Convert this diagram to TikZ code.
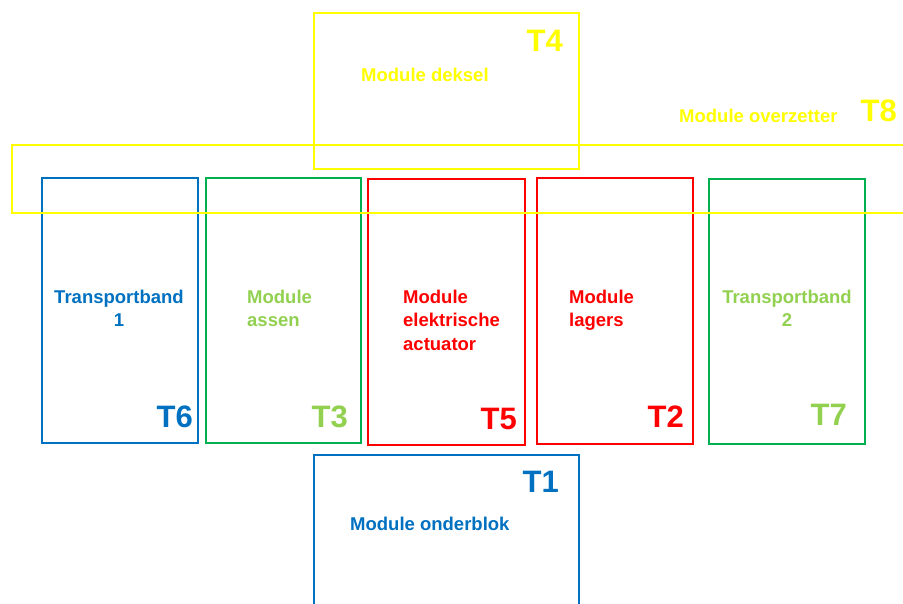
\documentclass[tikz,border=0pt]{standalone}
\usepackage{fontspec}
\setmainfont{Liberation Sans}
\definecolor{ylw}{HTML}{FFFF00}
\definecolor{blu}{HTML}{0070C0}
\definecolor{grnframe}{HTML}{00B050}
\definecolor{grntext}{HTML}{92D050}
\definecolor{rd}{HTML}{FF0000}
\tikzset{
  modbox/.style={draw=#1, line width=1.8pt, rectangle, inner sep=0pt, anchor=north west},
  lbl/.style={text=#1, font=\bfseries\fontsize{18.5}{23.5}\selectfont, inner sep=0pt, align=left, anchor=north west},
  clbl/.style={text=#1, font=\bfseries\fontsize{18.5}{23.5}\selectfont, inner sep=0pt, align=center, anchor=north},
  tag/.style={text=#1, font=\bfseries\fontsize{31}{36}\selectfont, inner sep=0pt, anchor=base east},
}
\begin{document}
\begin{tikzpicture}[x=1pt,y=-1pt]
\useasboundingbox (0,0) rectangle (903,604);
\clip (0,0) rectangle (903,604);
% module boxes
\node[modbox=ylw, minimum width=265pt, minimum height=156pt] (b4) at (313,12) {};
\node[modbox=blu, minimum width=156pt, minimum height=265pt] (b6) at (41,177) {};
\node[modbox=grnframe, minimum width=155pt, minimum height=265pt] (b3) at (205,177) {};
\node[modbox=rd, minimum width=157pt, minimum height=266pt] (b5) at (367,178) {};
\node[modbox=rd, minimum width=156pt, minimum height=266pt] (b2) at (536,177) {};
\node[modbox=grnframe, minimum width=156pt, minimum height=265pt] (b7) at (708,178) {};
\node[modbox=blu, minimum width=265pt, minimum height=180pt] (b1) at (313,454) {};
\node[modbox=ylw, minimum width=920pt, minimum height=68pt] (b8) at (11,144) {};
% names
\node[lbl=ylw] (n4) at (361,67.5) {Module deksel};
\node[lbl=ylw] (n8) at (679,108.5) {Module overzetter};
\node[clbl=blu] (n6) at (119,289.5) {Transportband\\1};
\node[lbl=grntext] (n3) at (247,289.5) {Module\\assen};
\node[lbl=rd] (n5) at (403,289.5) {Module\\elektrische\\actuator};
\node[lbl=rd] (n2) at (569,289.5) {Module\\lagers};
\node[clbl=grntext] (n7) at (787,289.5) {Transportband\\2};
\node[lbl=blu] (n1) at (350,516.5) {Module onderblok};
% tags
\node[tag=ylw] (t4) at (563,52) {T4};
\node[tag=ylw] (t8) at (897,122) {T8};
\node[tag=blu] (t6) at (193,427) {T6};
\node[tag=grntext] (t3) at (348,427) {T3};
\node[tag=rd] (t5) at (517,429) {T5};
\node[tag=rd] (t2) at (684,427) {T2};
\node[tag=grntext] (t7) at (847,425) {T7};
\node[tag=blu] (t1) at (559,492) {T1};
\end{tikzpicture}
\end{document}
